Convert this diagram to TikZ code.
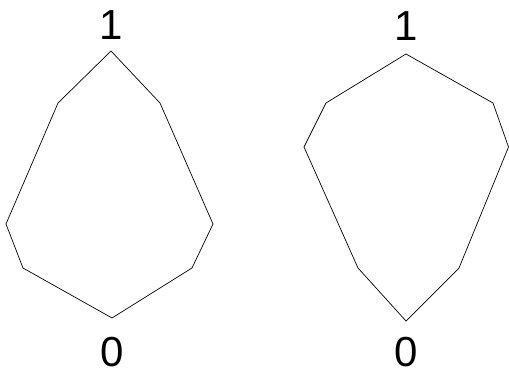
\documentclass[tikz,border=0pt]{standalone}
\usepackage{fontspec}
\setmainfont{Liberation Sans}
\usetikzlibrary{positioning}
\tikzset{
  edge/.style={draw=black,line width=0.7pt,line join=miter},
  lbl/.style={inner sep=0pt,anchor=base,text depth=0pt,font=\fontsize{42}{42}\selectfont},
}

\begin{document}
\begin{tikzpicture}[x=1pt,y=-1pt]
\useasboundingbox (0,0) rectangle (509,372);
% left lattice
\coordinate (aT) at (111,51);
\coordinate (aUL) at (58,103);
\coordinate (aUR) at (160,103);
\coordinate (aL) at (6,224);
\coordinate (aR) at (213,224);
\coordinate (aLL) at (23,268);
\coordinate (aLR) at (192,268);
\coordinate (aB) at (112,318);
\node[lbl] (aOne) at (111,39) {1};
\node[lbl] (aZero) at (112,366) {0};
\draw[edge] (aT) -- (aUL) -- (aL) -- (aLL) -- (aB) -- (aLR) -- (aR) -- (aUR) -- cycle;
% right lattice
\coordinate (bT) at (406,54);
\coordinate (bUL) at (326,103);
\coordinate (bUR) at (493,103);
\coordinate (bL) at (304,147);
\coordinate (bR) at (508.5,147);
\coordinate (bLL) at (358,268);
\coordinate (bLR) at (459,268);
\coordinate (bB) at (406,321);
\node[lbl] (bOne) at (406,40) {1};
\node[lbl] (bZero) at (406,366) {0};
\draw[edge] (bT) -- (bUL) -- (bL) -- (bLL) -- (bB) -- (bLR) -- (bR) -- (bUR) -- cycle;
\end{tikzpicture}
\end{document}
